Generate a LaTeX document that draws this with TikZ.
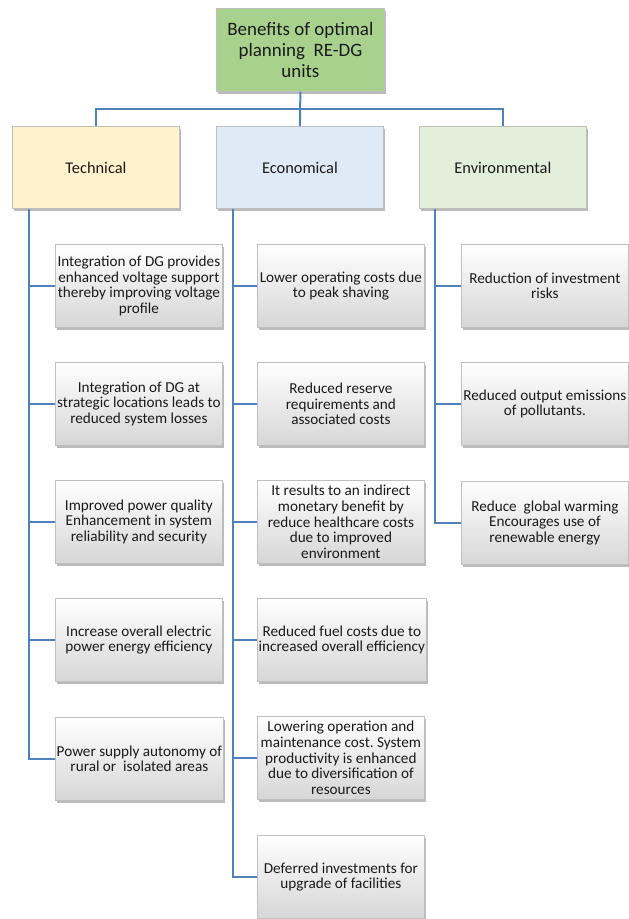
\documentclass[tikz,border=0pt]{standalone}
\usepackage{fontspec}
\setmainfont{Carlito}
\frenchspacing
\usetikzlibrary{calc,shadows}
\definecolor{rootgreen}{HTML}{A9D18E}
\definecolor{techyellow}{HTML}{FFF2CC}
\definecolor{econblue}{HTML}{DEEBF7}
\definecolor{envgreen}{HTML}{E2EFDA}
\definecolor{boxgray}{HTML}{BFBFBF}
\definecolor{childgray}{HTML}{D6D6D6}
\definecolor{textgray}{HTML}{1A1A1A}
\definecolor{linkblue}{HTML}{4F81BD}
\tikzset{
  box/.style={draw=boxgray, line width=0.6pt, align=center, inner sep=1pt, text=textgray,
    drop shadow={shadow xshift=1.2pt, shadow yshift=-1.8pt, opacity=0.45, fill=black!60}},
  rootbox/.style={box, fill=rootgreen, minimum width=126pt, minimum height=62.25pt,
    font=\fontsize{14.2}{15.75}\selectfont},
  catbox/.style={box, minimum width=125.25pt, minimum height=61.5pt,
    font=\fontsize{12.3}{14}\selectfont},
  childbox/.style={box, top color=white, bottom color=childgray, minimum width=125.25pt,
    minimum height=62.25pt, font=\fontsize{11.4}{11.8}\selectfont},
  conn/.style={draw=linkblue, line width=1.5pt},
}
\begin{document}
\begin{tikzpicture}[x=0.75pt,y=-0.75pt]
  \useasboundingbox (0,0) rectangle (628,919);

  % Root box
  \node[rootbox, anchor=north west] (root) at (216,8) {Benefits of optimal\\planning\ \ RE-DG\\units};

  % Category boxes
  \node[catbox, fill=techyellow, anchor=north west] (tech) at (12,126) {Technical};
  \node[catbox, fill=econblue, anchor=north west] (econ) at (216,126) {Economical};
  \node[catbox, fill=envgreen, anchor=north west] (env) at (419,126) {Environmental};

  % Technical benefits
  \node[childbox, anchor=north west] (t1) at (55,244) {Integration of DG provides\\enhanced voltage support\\thereby improving voltage\\profile};
  \node[childbox, anchor=north west] (t2) at (55,362) {Integration of DG at\\strategic locations leads to\\reduced system losses};
  \node[childbox, anchor=north west] (t3) at (55,480) {Improved power quality\\Enhancement in system\\reliability and security};
  \node[childbox, anchor=north west] (t4) at (55,598) {Increase overall electric\\power energy efficiency};
  \node[childbox, anchor=north west] (t5) at (55,717) {Power supply autonomy of\\rural or\ \ isolated areas};

  % Economical benefits
  \node[childbox, anchor=north west] (e1) at (257,244) {Lower operating costs due\\to peak shaving};
  \node[childbox, anchor=north west] (e2) at (257,362) {Reduced reserve\\requirements and\\associated costs};
  \node[childbox, anchor=north west] (e3) at (257,480) {It results to an indirect\\monetary benefit by\\reduce healthcare costs\\due to improved\\environment};
  \node[childbox, anchor=north west] (e4) at (257,598) {Reduced fuel costs due to\\increased overall efficiency};
  \node[childbox, anchor=north west] (e5) at (257,716) {Lowering operation and\\maintenance cost. System\\productivity is enhanced\\due to diversification of\\resources};
  \node[childbox, anchor=north west] (e6) at (257,835) {Deferred investments for\\upgrade of facilities};

  % Environmental benefits
  \node[childbox, anchor=north west] (v1) at (461,244) {Reduction of investment\\risks};
  \node[childbox, anchor=north west] (v2) at (461,362) {Reduced output emissions\\of pollutants.};
  \node[childbox, anchor=north west] (v3) at (461,481) {Reduce\ \ global warming\\Encourages use of\\renewable energy};

  % Links root -> categories
  \coordinate (bus) at ($(root.south)+(0,17)$);
  \draw[conn] (root.south) -- (econ.north);
  \draw[conn] (tech.north) |- (bus) -| (env.north);

  % Spines under the categories
  \coordinate (tspine) at ($(tech.south west)+(17,0)$);
  \coordinate (espine) at ($(econ.south west)+(17,0)$);
  \coordinate (vspine) at ($(env.south west)+(16,0)$);

  \draw[conn] (tspine) |- (t1.west);
  \draw[conn] (tspine) |- (t2.west);
  \draw[conn] (tspine) |- (t3.west);
  \draw[conn] (tspine) |- (t4.west);
  \draw[conn] (tspine) |- (t5.west);

  \draw[conn] (espine) |- (e1.west);
  \draw[conn] (espine) |- (e2.west);
  \draw[conn] (espine) |- (e3.west);
  \draw[conn] (espine) |- (e4.west);
  \draw[conn] (espine) |- (e5.west);
  \draw[conn] (espine) |- (e6.west);

  \draw[conn] (vspine) |- (v1.west);
  \draw[conn] (vspine) |- (v2.west);
  \draw[conn] (vspine) |- (v3.west);
\end{tikzpicture}
\end{document}
